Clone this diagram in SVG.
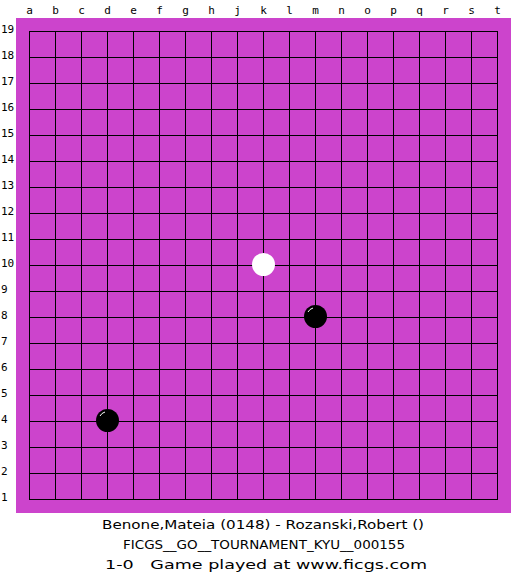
<svg xmlns="http://www.w3.org/2000/svg" width="525" height="575" viewBox="0 0 525 575">
<defs>
<style>
.grid line{stroke:#000;stroke-width:1;shape-rendering:crispEdges}
.col{font-family:"DejaVu Sans Mono","Liberation Mono",monospace;font-size:11px;text-anchor:middle;fill:#000}
.row{font-family:"DejaVu Sans Mono","Liberation Mono",monospace;font-size:11px;fill:#000}
.info{font-family:"DejaVu Sans","Liberation Sans",sans-serif;font-size:12px;fill:#000}
.hl{fill:none;stroke:#fff;stroke-width:1}
</style>
</defs>
<rect width="525" height="575" fill="#fff"/>
<rect id="board" x="16" y="18" width="495" height="495" fill="#CC44CC"/>
<g id="grid" class="grid">
<line x1="29.5" y1="31" x2="29.5" y2="500"/>
<line x1="55.5" y1="31" x2="55.5" y2="500"/>
<line x1="81.5" y1="31" x2="81.5" y2="500"/>
<line x1="107.5" y1="31" x2="107.5" y2="500"/>
<line x1="133.5" y1="31" x2="133.5" y2="500"/>
<line x1="159.5" y1="31" x2="159.5" y2="500"/>
<line x1="185.5" y1="31" x2="185.5" y2="500"/>
<line x1="211.5" y1="31" x2="211.5" y2="500"/>
<line x1="237.5" y1="31" x2="237.5" y2="500"/>
<line x1="263.5" y1="31" x2="263.5" y2="500"/>
<line x1="289.5" y1="31" x2="289.5" y2="500"/>
<line x1="315.5" y1="31" x2="315.5" y2="500"/>
<line x1="341.5" y1="31" x2="341.5" y2="500"/>
<line x1="367.5" y1="31" x2="367.5" y2="500"/>
<line x1="393.5" y1="31" x2="393.5" y2="500"/>
<line x1="419.5" y1="31" x2="419.5" y2="500"/>
<line x1="445.5" y1="31" x2="445.5" y2="500"/>
<line x1="471.5" y1="31" x2="471.5" y2="500"/>
<line x1="497.5" y1="31" x2="497.5" y2="500"/>
<line x1="29" y1="31.5" x2="498" y2="31.5"/>
<line x1="29" y1="57.5" x2="498" y2="57.5"/>
<line x1="29" y1="83.5" x2="498" y2="83.5"/>
<line x1="29" y1="109.5" x2="498" y2="109.5"/>
<line x1="29" y1="135.5" x2="498" y2="135.5"/>
<line x1="29" y1="161.5" x2="498" y2="161.5"/>
<line x1="29" y1="187.5" x2="498" y2="187.5"/>
<line x1="29" y1="213.5" x2="498" y2="213.5"/>
<line x1="29" y1="239.5" x2="498" y2="239.5"/>
<line x1="29" y1="265.5" x2="498" y2="265.5"/>
<line x1="29" y1="291.5" x2="498" y2="291.5"/>
<line x1="29" y1="317.5" x2="498" y2="317.5"/>
<line x1="29" y1="343.5" x2="498" y2="343.5"/>
<line x1="29" y1="369.5" x2="498" y2="369.5"/>
<line x1="29" y1="395.5" x2="498" y2="395.5"/>
<line x1="29" y1="421.5" x2="498" y2="421.5"/>
<line x1="29" y1="447.5" x2="498" y2="447.5"/>
<line x1="29" y1="473.5" x2="498" y2="473.5"/>
<line x1="29" y1="499.5" x2="498" y2="499.5"/>
</g>
<g id="col-labels">
<text class="col" x="29.5" y="14">a</text>
<text class="col" x="55.5" y="14">b</text>
<text class="col" x="81.5" y="14">c</text>
<text class="col" x="107.5" y="14">d</text>
<text class="col" x="133.5" y="14">e</text>
<text class="col" x="159.5" y="14">f</text>
<text class="col" x="185.5" y="14">g</text>
<text class="col" x="211.5" y="14">h</text>
<text class="col" x="237.5" y="14">j</text>
<text class="col" x="263.5" y="14">k</text>
<text class="col" x="289.5" y="14">l</text>
<text class="col" x="315.5" y="14">m</text>
<text class="col" x="341.5" y="14">n</text>
<text class="col" x="367.5" y="14">o</text>
<text class="col" x="393.5" y="14">p</text>
<text class="col" x="419.5" y="14">q</text>
<text class="col" x="445.5" y="14">r</text>
<text class="col" x="471.5" y="14">s</text>
<text class="col" x="497.5" y="14">t</text>
</g>
<g id="row-labels">
<text class="row" x="1" y="33">19</text>
<text class="row" x="1" y="59">18</text>
<text class="row" x="1" y="85">17</text>
<text class="row" x="1" y="111">16</text>
<text class="row" x="1" y="137">15</text>
<text class="row" x="1" y="163">14</text>
<text class="row" x="1" y="189">13</text>
<text class="row" x="1" y="215">12</text>
<text class="row" x="1" y="241">11</text>
<text class="row" x="1" y="267">10</text>
<text class="row" x="1" y="293">9</text>
<text class="row" x="1" y="319">8</text>
<text class="row" x="1" y="345">7</text>
<text class="row" x="1" y="371">6</text>
<text class="row" x="1" y="397">5</text>
<text class="row" x="1" y="423">4</text>
<text class="row" x="1" y="449">3</text>
<text class="row" x="1" y="475">2</text>
<text class="row" x="1" y="501">1</text>
</g>
<g id="stone-k10">
<circle cx="263.5" cy="264.5" r="11.5" fill="#fff"/>
</g>
<g id="stone-m8">
<circle cx="315.5" cy="316.5" r="11.5" fill="#000"/>
<path class="hl" d="M308 312 A8 8 0 0 1 313 308"/>
</g>
<g id="stone-d4">
<circle cx="107.5" cy="420.5" r="11.5" fill="#000"/>
<path class="hl" d="M100 416 A8 8 0 0 1 105 412"/>
</g>
<g id="info">
<text class="info" x="102" y="529" textLength="322" lengthAdjust="spacingAndGlyphs">Benone,Mateia (0148) - Rozanski,Robert ()</text>
<text class="info" x="123" y="549" textLength="282" lengthAdjust="spacingAndGlyphs">FICGS__GO__TOURNAMENT_KYU__000155</text>
<text class="info" x="105" y="569" textLength="322" lengthAdjust="spacingAndGlyphs" xml:space="preserve">1-0   Game played at www.ficgs.com</text>
</g>
</svg>
